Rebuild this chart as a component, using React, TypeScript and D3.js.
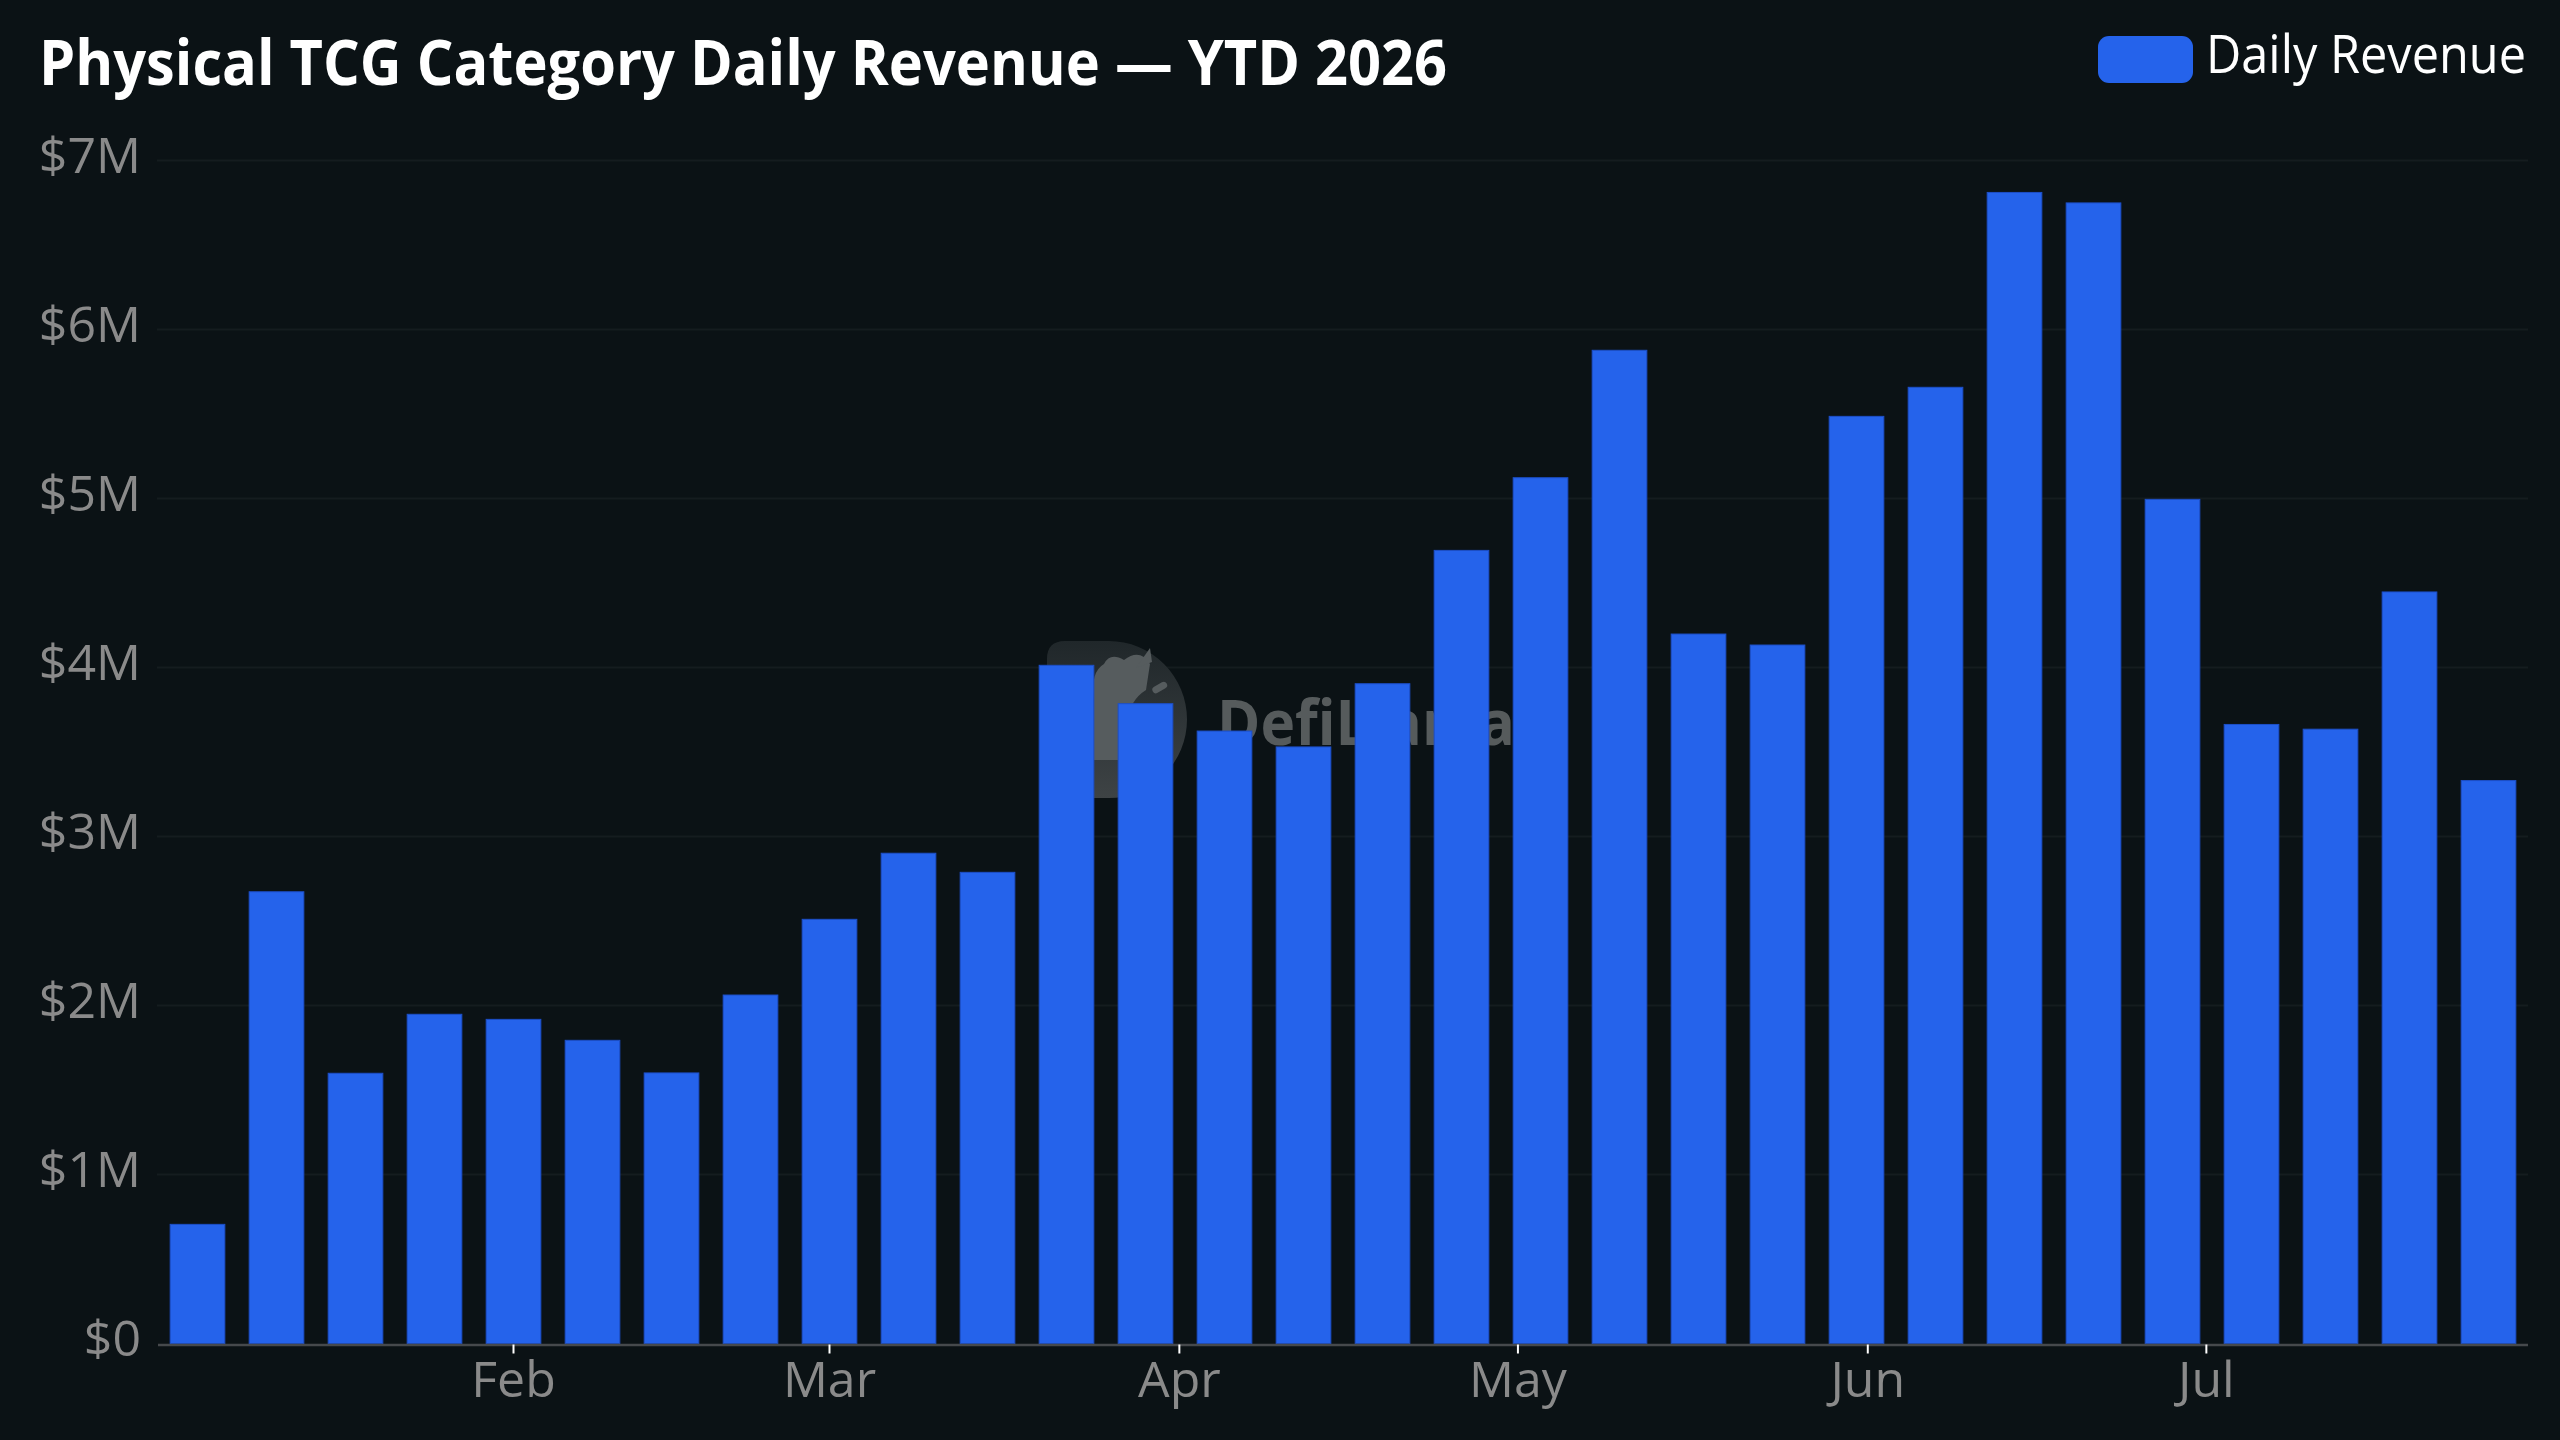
import React from 'react';
import * as d3 from 'd3';

// weekly buckets (week starting Sunday), YTD 2026
const weekDates = [
  '2026-01-04', '2026-01-11', '2026-01-18', '2026-01-25', '2026-02-01', '2026-02-08',
  '2026-02-15', '2026-02-22', '2026-03-01', '2026-03-08', '2026-03-15', '2026-03-22',
  '2026-03-29', '2026-04-05', '2026-04-12', '2026-04-19', '2026-04-26', '2026-05-03',
  '2026-05-10', '2026-05-17', '2026-05-24', '2026-05-31', '2026-06-07', '2026-06-14',
  '2026-06-21', '2026-06-28', '2026-07-05', '2026-07-12', '2026-07-19', '2026-07-26',
];

const dailyRevenue = [
  705000, 2673000, 1599000, 1948000, 1918000, 1794000,
  1601000, 2062000, 2510000, 2901000, 2788000, 4013000,
  3786000, 3624000, 3530000, 3904000, 4693000, 5123000,
  5877000, 4198000, 4133000, 5486000, 5658000, 6811000,
  6749000, 4995000, 3663000, 3635000, 4447000, 3331000,
];

const monthTicks = ['2026-02-01', '2026-03-01', '2026-04-01', '2026-05-01', '2026-06-01', '2026-07-01'];
const monthLabels = ['Feb', 'Mar', 'Apr', 'May', 'Jun', 'Jul'];

const yTicks = [0, 1e6, 2e6, 3e6, 4e6, 5e6, 6e6, 7e6];
const yTickLabels = ['$0', '$1M', '$2M', '$3M', '$4M', '$5M', '$6M', '$7M'];

const W = 2560;
const H = 1440;
const BG = '#0b1215';
const BAR = '#2563eb';
const FONT = "'Open Sans', 'Noto Sans', sans-serif";
const DAY = 24 * 3600 * 1000;

const margin = { left: 158, right: 32, top: 160.5, bottom: 96.5 };

export default function App() {
  const dates = weekDates.map((d) => new Date(d + 'T00:00:00Z'));
  const halfWeek = 3.5 * DAY;

  const x = d3
    .scaleUtc()
    .domain([new Date(+dates[0] - halfWeek), new Date(+dates[dates.length - 1] + halfWeek)])
    .range([margin.left, W - margin.right]);

  const y = d3
    .scaleLinear()
    .domain([0, 7e6])
    .range([H - margin.bottom, margin.top]);

  const step = x(new Date(+dates[0] + 7 * DAY)) - x(dates[0]);
  const barW = step * 0.692;
  const [x0, x1] = x.range();

  // watermark geometry
  const wm = { left: 1047, top: 641, bottom: 798, cx: 1108.5, r: 78.5, c: 18 };
  const dPath = `M${wm.left + wm.c},${wm.top} L${wm.cx},${wm.top} A${wm.r},${wm.r} 0 0 1 ${wm.cx},${wm.bottom} L${wm.left + wm.c},${wm.bottom} Q${wm.left},${wm.bottom} ${wm.left},${wm.bottom - wm.c} L${wm.left},${wm.top + wm.c} Q${wm.left},${wm.top} ${wm.left + wm.c},${wm.top} Z`;

  return (
    <svg
      width={W}
      height={H}
      viewBox={`0 0 ${W} ${H}`}
      style={{ position: 'absolute', left: 0, top: 0, display: 'block', background: BG }}
    >
      <defs>
        <linearGradient id="wmGrad" x1="0" y1="0" x2="0" y2="1">
          <stop offset="0%" stopColor="#20272a" />
          <stop offset="100%" stopColor="#3e4345" />
        </linearGradient>
      </defs>
      <rect x={0} y={0} width={W} height={H} fill={BG} />

      {/* gridlines */}
      {yTicks.slice(1).map((t) => (
        <line key={t} x1={x0 - 1} x2={x1} y1={y(t)} y2={y(t)} stroke="#151c1f" strokeWidth={2} />
      ))}

      {/* watermark */}
      <g>
        <path d={dPath} fill="url(#wmGrad)" />
        <path
          d="M1092,760 L1094,700 Q1090,672 1104,664 Q1110,652 1124,660 Q1140,648 1150,664 L1146,690 Q1130,700 1128,720 L1126,760 Z"
          fill="#565c5e"
        />
        <path d="M1136,668 L1150,648 L1152,662 Z" fill="#565c5e" />
        <rect x={1152} y={684} width={16} height={7} rx={3.5} fill="#565c5e" transform="rotate(-30 1160 688)" />
        <text
          x={1217}
          y={745}
          fontFamily={FONT}
          fontWeight={700}
          fontSize={62}
          fill="#565b5c"
          textLength={298}
          lengthAdjust="spacingAndGlyphs"
        >
          DefiLlama
        </text>
      </g>

      {/* bars */}
      {dates.map((d, i) => (
        <rect
          key={weekDates[i]}
          x={x(d) - barW / 2}
          y={y(dailyRevenue[i])}
          width={barW}
          height={y(0) - y(dailyRevenue[i])}
          fill={BAR}
          stroke="#1d4fc8"
          strokeWidth={1}
        />
      ))}

      {/* x axis */}
      <line x1={x0} x2={x1} y1={y(0) + 1.5} y2={y(0) + 1.5} stroke="#46494c" strokeWidth={2.5} />
      {monthTicks.map((m, i) => {
        const px = x(new Date(m + 'T00:00:00Z'));
        return (
          <g key={m}>
            <line x1={px} x2={px} y1={y(0) + 1} y2={y(0) + 10} stroke="#ffffff" strokeWidth={2} />
            <text
              x={px}
              y={1397}
              textAnchor="middle"
              fontFamily={FONT}
              fontSize={50}
              fill="#8a8a8a"
            >
              {monthLabels[i]}
            </text>
          </g>
        );
      })}

      {/* y axis labels */}
      {yTicks.map((t, i) => (
        <text
          key={t}
          x={141}
          y={y(t) + 12}
          textAnchor="end"
          fontFamily={FONT}
          fontSize={50}
          fill="#8a8a8a"
        >
          {yTickLabels[i]}
        </text>
      ))}

      {/* title */}
      <text
        x={39}
        y={85}
        fontFamily={FONT}
        fontWeight={700}
        fontSize={62}
        fill="#ffffff"
        textLength={1408}
        lengthAdjust="spacingAndGlyphs"
      >
        Physical TCG Category Daily Revenue — YTD 2026
      </text>

      {/* legend */}
      <rect x={2098} y={36} width={95} height={47} rx={11} fill={BAR} />
      <text
        x={2206}
        y={73}
        fontFamily={FONT}
        fontSize={53}
        fill="#ffffff"
        textLength={320}
        lengthAdjust="spacingAndGlyphs"
      >
        Daily Revenue
      </text>
    </svg>
  );
}
